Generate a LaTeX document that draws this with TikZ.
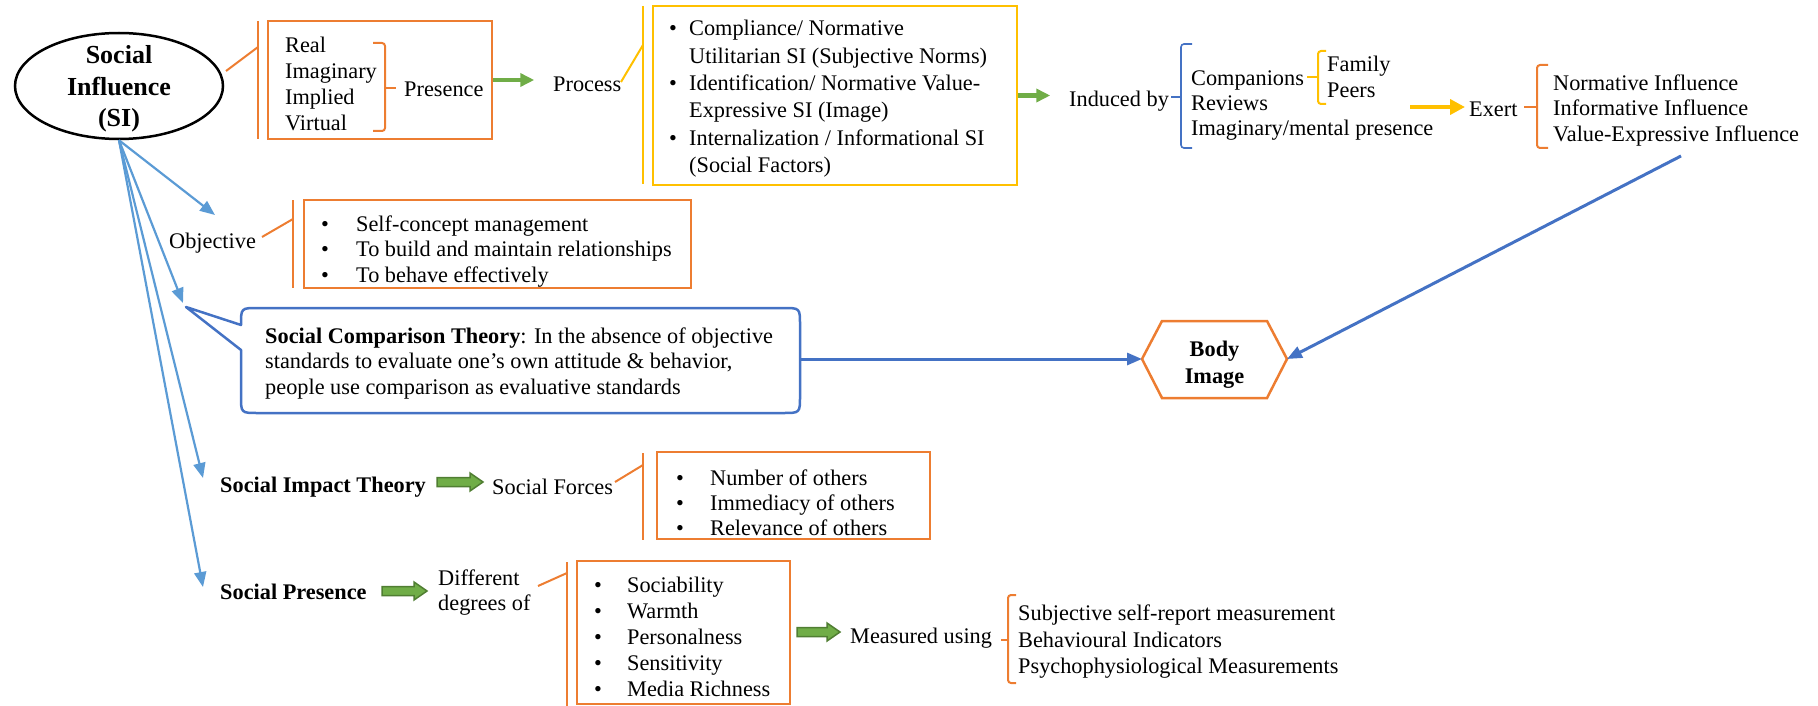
\documentclass[tikz,border=0pt]{standalone}
\usepackage{fontspec}
\setmainfont{Liberation Serif}
\usetikzlibrary{arrows.meta,shapes.geometric}

\definecolor{mOrange}{HTML}{ED7D31}
\definecolor{mYellow}{HTML}{FFC000}
\definecolor{mGreen}{HTML}{70AD47}
\definecolor{mGreenDark}{HTML}{507E32}
\definecolor{mLightBlue}{HTML}{5B9BD5}
\definecolor{mBlue}{HTML}{4472C4}

% font size 22.3pt with a chosen line distance
\newcommand{\setfs}[1]{\fontsize{22.3}{#1}\selectfont}
% bullet set in a box of given width
\newcommand{\bul}[1]{\makebox[#1][l]{\textbullet}}
% outlined green block arrow: from x1 to x2 at height y
\newcommand{\blockarrow}[3]{\draw[blockar] (#1,{#3-4.5}) -- ({#2-13},{#3-4.5}) -- ({#2-13},{#3-9}) -- (#2,#3) -- ({#2-13},{#3+9}) -- ({#2-13},{#3+4.5}) -- (#1,{#3+4.5}) -- cycle;}
% bracket opening to the right with a tick to the left: style, x, y1, y2, ytick, hook, tick
\newcommand{\bracketL}[7]{%
  \draw[#1, rounded corners=3pt] ({#2+#6},#3) -- (#2,#3) -- (#2,#4) -- ({#2+#6},#4);
  \draw[#1] (#2,#5) -- ({#2-#7},#5);}
% bracket opening to the left with a tick to the right
\newcommand{\bracketR}[7]{%
  \draw[#1, rounded corners=3pt] ({#2-#6},#3) -- (#2,#3) -- (#2,#4) -- ({#2-#6},#4);
  \draw[#1] (#2,#5) -- ({#2+#7},#5);}

\tikzset{
  txt/.style={inner sep=0pt, anchor=west, align=left, font=\setfs{25.5}, yshift=-4pt,
    execute at begin node=\strut, execute at end node=\strut},
  boldtxt/.style={txt, font=\bfseries\setfs{25.5}},
  obox/.style={draw=mOrange, line width=2.5pt, inner sep=0pt},
  ybox/.style={draw=mYellow, line width=2.5pt, inner sep=0pt},
  oline/.style={mOrange, line width=2pt},
  yline/.style={mYellow, line width=2pt},
  garrow/.style={mGreen, line width=4.5pt, -{Triangle[length=14pt,width=13pt]}},
  yarrow/.style={mYellow, line width=4pt, -{Triangle[length=15pt,width=15pt]}},
  larrow/.style={mLightBlue, line width=2.2pt, -{Triangle[length=15pt,width=12pt]}},
  barrow/.style={mBlue, line width=3pt, -{Triangle[length=15pt,width=12pt]}},
  blockar/.style={draw=mGreenDark, fill=mGreen, line width=1.5pt, line join=miter},
}

\begin{document}
\begin{tikzpicture}[x=1pt, y=-1pt]
\useasboundingbox (0,0) rectangle (1818,706);

% ---------- central ellipse ----------
\node[draw, ellipse, line width=2.5pt, minimum width=208pt, minimum height=106pt, inner sep=0pt] (si) at (119,86) {};
\node[inner sep=0pt, align=center, yshift=-3pt, font=\bfseries\fontsize{26}{31.5}\selectfont] (sititle) at (si.center) {\strut Social\\Influence\\(SI)\strut};

% ---------- presence ----------
\coordinate (c1a) at (226,71);
\coordinate (c1b) at (258,47);
\draw[oline] (c1a) -- (c1b);
\draw[oline, line width=2.5pt] (258,21) -- (258,139);
\node[obox, minimum width=224pt, minimum height=118pt] (b1) at (380,80) {};
\node[txt, font=\setfs{26}] (rl) at (285,84) {Real\\Imaginary\\Implied\\Virtual};
\bracketR{oline}{385}{43}{131}{88}{12}{11}
\node[txt] (presence) at (404,87) {Presence};
\draw[garrow] (b1.east) -- ++(41,0);
\node[txt] (process) at (553,82) {Process};

% ---------- process ----------
\coordinate (c2a) at (621,82);
\coordinate (c2b) at (643,45);
\draw[yline] (c2a) -- (c2b);
\draw[yline, line width=2.5pt] (643,6) -- (643,184);
\node[ybox, minimum width=364pt, minimum height=179pt] (b2) at (835,95.5) {};
\node[txt, font=\setfs{27.4}] (proclist) at (669,96.5) {\bul{20pt}Compliance/ Normative\\\hspace*{20pt}Utilitarian SI (Subjective Norms)\\\bul{20pt}Identification/ Normative Value-\\\hspace*{20pt}Expressive SI (Image)\\\bul{20pt}Internalization / Informational SI\\\hspace*{20pt}(Social Factors)};
\draw[garrow] (b2.east) -- ++(32,0);

% ---------- induced by ----------
\node[txt] (induced) at (1069,97) {Induced by};
\bracketL{mBlue, line width=1.6pt}{1181}{44}{148}{97}{11}{10}
\node[txt, font=\setfs{25}] (sources) at (1191,102.5) {Companions\\Reviews\\Imaginary/mental presence};
\bracketL{yline}{1318}{51}{104}{77}{8}{11}
\node[txt, font=\setfs{26}] (family) at (1327,77) {Family\\Peers};
\coordinate (ya) at (1410,107);
\node[txt] (exert) at (1469,107) {Exert};
\draw[yarrow] (ya) -- (1465,107);
\bracketL{oline}{1537}{65}{148}{107}{11}{13}
\node[txt, font=\setfs{25.5}] (kinds) at (1553,107.5) {Normative Influence\\Informative Influence\\Value-Expressive Influence};

% ---------- body image ----------
\coordinate (bodyL) at (1142,359);
\coordinate (bodyR) at (1287,359);
\draw[mOrange, line width=2.5pt, line join=miter] (bodyL) -- (1162,321) -- (1267,321) -- (bodyR) -- (1267,398) -- (1162,398) -- cycle;
\node[inner sep=0pt, align=center, yshift=-3pt, font=\bfseries\setfs{27}] (body) at (1214.5,361.5) {\strut Body\\Image\strut};
\coordinate (kindsEnd) at (1681,156);
\draw[barrow] (kindsEnd) -- (bodyR);

% ---------- objective ----------
\coordinate (objTip) at (215,215);
\draw[larrow] (si.south) -- (objTip);
\node[txt] (obj) at (169,239) {Objective};
\coordinate (c3a) at (262,237);
\coordinate (c3b) at (293,219);
\draw[oline] (c3a) -- (c3b);
\draw[oline, line width=2.5pt] (293,200) -- (293,288);
\node[obox, minimum width=387pt, minimum height=88pt] (b3) at (497.5,244) {};
\node[txt] (objlist) at (321,248.5) {\bul{35pt}Self-concept management\\\bul{35pt}To build and maintain relationships\\\bul{35pt}To behave effectively};

% ---------- social comparison callout ----------
\coordinate (cmpTip) at (186,307);
\coordinate (cmpArrow) at (183,303);
\coordinate (cmpR) at (800,359);
\draw[larrow] (si.south) -- (cmpArrow);
\draw[mBlue, line width=2.5pt, line join=round] (241,325) -- (cmpTip) -- (241,350) -- (241,396) .. controls (241,413) .. (258,413) -- (783,413) .. controls (800,413) .. (800,396) -- (cmpR) -- (800,325) .. controls (800,308) .. (783,308) -- (258,308) .. controls (241,308) .. (241,325) -- cycle;
\node[txt] (cmp) at (265,360.5) {\textbf{Social Comparison Theory}: In the absence of objective\\standards to evaluate one’s own attitude \& behavior,\\people use comparison as evaluative standards};
\draw[barrow] (cmpR) -- (bodyL);

% ---------- social impact theory ----------
\coordinate (sitTip) at (203,478);
\draw[larrow] (si.south) -- (sitTip);
\node[boldtxt] (sit) at (220,483) {Social Impact Theory};
\blockarrow{437}{483}{482}
\node[txt] (forces) at (492,485) {Social Forces};
\coordinate (c4a) at (615,482);
\coordinate (c4b) at (643,465);
\draw[oline] (c4a) -- (c4b);
\draw[oline, line width=2.5pt] (643,453) -- (643,540);
\node[obox, minimum width=273pt, minimum height=87pt] (b4) at (793.5,495.5) {};
\node[txt, font=\setfs{25}] (forcelist) at (676,502) {\bul{34pt}Number of others\\\bul{34pt}Immediacy of others\\\bul{34pt}Relevance of others};

% ---------- social presence ----------
\coordinate (spTip) at (203,587);
\draw[larrow] (si.south) -- (spTip);
\node[boldtxt] (sp) at (220,590) {Social Presence};
\blockarrow{382}{427}{591}
\node[txt, font=\setfs{25}] (degrees) at (438,589.5) {Different\\degrees of};
\coordinate (c5a) at (538,586);
\coordinate (c5b) at (567,573);
\draw[oline] (c5a) -- (c5b);
\draw[oline, line width=2.5pt] (567,562) -- (567,706);
\node[obox, minimum width=213pt, minimum height=143pt] (b5) at (683.5,632.5) {};
\node[txt, font=\setfs{26}] (qualities) at (594,637) {\bul{33pt}Sociability\\\bul{33pt}Warmth\\\bul{33pt}Personalness\\\bul{33pt}Sensitivity\\\bul{33pt}Media Richness};
\blockarrow{797}{840}{632}
\node[txt] (measured) at (850,634) {Measured using};
\bracketL{oline}{1008}{595}{683}{640}{8}{7}
\node[txt, font=\setfs{26.5}] (methods) at (1018,639.5) {Subjective self-report measurement\\Behavioural Indicators\\Psychophysiological Measurements};
\end{tikzpicture}
\end{document}
